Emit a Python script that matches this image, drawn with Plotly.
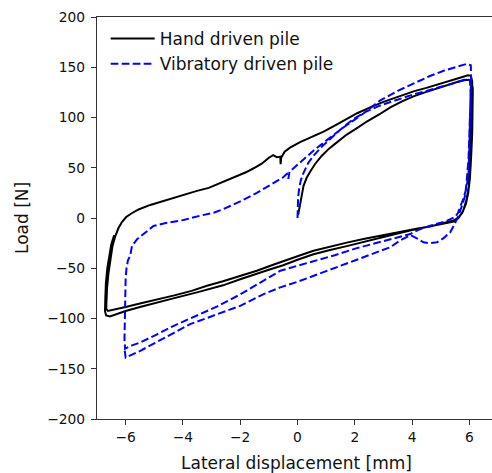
import plotly.graph_objects as go

# Hand driven pile (black, solid) - displacement [mm], load [N]
hand_x = [0.02, 0.06, 0.12, 0.21, 0.32, 0.44, 0.62, 0.85, 1.1, 1.32, 1.72, 2.05, 2.42, 2.85, 3.24, 3.65, 4.05, 4.45, 4.87, 5.3, 5.6, 5.9, 6.08,
          6.12, 6.12, 6.1, 6.06, 6.02, 5.96, 5.88, 5.75, 5.6, 5.44,
          5.0, 4.63, 4.2, 3.82, 3.24, 2.89, 2.3, 1.72, 1.1, 0.56, 0.1, -0.25, -0.8, -1.42, -2.0, -2.6, -3.16, -3.7, -4.3, -4.91, -5.5, -6.0, -6.4, -6.62,
          -6.68, -6.67, -6.65, -6.6, -6.54, -6.46, -6.36, -6.25, -6.13, -5.98, -5.8, -5.55, -5.14, -4.79, -4.4, -4.0, -3.51, -3.1, -2.81, -2.4, -2.12,
          -1.8, -1.53, -1.25, -1.0, -0.85, -0.72, -0.6, -0.59, -0.57, -0.45, -0.26, 0.09, 0.5, 0.91, 1.3, 1.72, 2.1, 2.54, 3.0, 3.5, 4.05, 4.5, 5.0,
          5.4, 5.73, 5.95, 6.05,
          6.1, 6.08, 6.05, 6.02, 5.98, 5.9, 5.78, 5.62, 5.45,
          5.2, 4.63, 4.0, 3.5, 2.89, 2.3, 1.72, 1.1, 0.56, 0.0, -0.5, -1.0, -1.42, -2.0, -2.6, -3.1, -3.51, -4.2, -4.91, -5.5, -6.0, -6.35, -6.55, -6.68,
          -6.72, -6.71, -6.69, -6.64, -6.58, -6.5, -6.4]
hand_y = [3, 8, 18, 32, 40, 46, 54, 62, 69, 74, 83, 89, 96, 103, 110, 116, 121, 125, 129, 133, 135.5, 137.5, 137,
          128, 110, 85, 60, 40, 25, 14, 5, 0, -2.5,
          -5.5, -8.5, -10.5, -12.5, -16, -17.6, -21, -24.5, -28.5, -32.6, -37, -40.8, -46, -52.5, -58, -63, -67.4, -72.5, -77, -80.7, -85, -88.5, -91, -92.5,
          -90, -80, -70, -55, -41, -28, -18, -10, -4, 1, 4.5, 8.5, 13, 16, 20, 23.5, 27, 30, 33.5, 38, 41.5,
          45.5, 49.5, 54, 60, 62.5, 60.5, 61, 53.5, 60, 66, 70, 75.5, 80.5, 86, 92, 98.5, 104.5, 110, 115.5, 120.5, 126, 129.5, 133.5,
          137, 140, 142, 141.5,
          136, 115, 85, 55, 32, 18, 7, 0, -3.5,
          -5, -8, -12, -15.5, -20, -24, -28, -32, -36, -41.5, -47, -51.5, -55.8, -61, -67, -71, -74, -79, -84, -88.5, -92.5, -95.5, -98, -97,
          -93, -80, -65, -50, -38, -26, -17]

# Vibratory driven pile (blue, dashed)
vib_x = [0.0, 0.0, 0.02, 0.06, 0.12, 0.21, 0.38, 0.56, 0.85, 1.14, 1.5, 1.95, 2.4, 2.89, 3.5, 4.05, 4.5, 4.98, 5.5, 5.91, 6.02,
         6.04, 6.03, 6.0, 5.97, 5.9, 5.8, 5.68, 5.6, 5.5,
         5.2, 4.63, 4.2, 3.93,
         3.24, 2.07, 1.3, 0.5, 0.0, -0.6, -1.1, -1.65, -2.0, -2.8, -3.75, -4.3, -4.9, -5.49, -5.8, -6.02,
         -6.04, -6.03, -6.02, -6.0, -5.97, -5.92, -5.84, -5.78, -5.6, -5.32, -5.03, -4.6, -4.27, -3.98, -3.4, -2.9, -2.58, -2.0, -1.42, -0.84, -0.5,
         -0.37, -0.32, -0.28, -0.1, 0.21, 0.6, 1.0, 1.6, 2.3, 2.89, 3.5, 4.05, 4.6, 5.1, 5.5, 5.91, 6.05,
         6.06, 6.03, 6.0, 5.97, 5.9, 5.85, 5.74, 5.62,
         5.45, 5.33, 5.1, 4.87, 4.6, 4.4, 4.15, 3.95,
         3.6, 3.24, 2.07, 1.0, 0.0, -0.6, -1.2, -2.0, -2.9, -3.75, -4.3, -4.9, -5.49, -6.0, -6.03]
vib_y = [0, 10, 20, 30, 38, 45, 55, 62, 71, 78.7, 88, 98.5, 106, 112, 118, 123, 126.5, 130, 134.5, 138.4, 137,
         125, 100, 70, 45, 30, 20, 10, 5, 1,
         -3, -7.7, -12, -16,
         -21, -30, -37, -43, -47.5, -52.5, -61, -70.7, -76, -88, -100, -107, -115.7, -123.8, -127, -130,
         -120, -100, -80, -60, -50, -42, -37.5, -28, -21, -14.5, -8, -5, -3, -2, 2.3, 5.5, 9, 16.5, 25, 34.5, 40.5,
         44, 39, 46, 50.5, 57.5, 68, 77, 90, 104, 117, 126.5, 134, 141, 146.5, 150, 153.4, 152,
         140, 110, 80, 58.8, 35, 22, 12, 2.3,
         -8, -14.2, -20, -24.2, -25, -24.2, -20, -17,
         -22, -29, -41.5, -53, -63.5, -69, -76, -87.4, -96.5, -105.6, -114, -123, -132.2, -139, -132]

x_ticks = [-6, -4, -2, 0, 2, 4, 6]
y_ticks = [-200, -150, -100, -50, 0, 50, 100, 150, 200]

FONT = "DejaVu Sans"

fig = go.Figure()
fig.add_trace(go.Scatter(x=hand_x, y=hand_y, mode="lines", name="Hand driven pile",
                         line=dict(color="black", width=2)))
fig.add_trace(go.Scatter(x=vib_x, y=vib_y, mode="lines", name="Vibratory driven pile",
                         line=dict(color="#0000ff", width=2, dash="7.7px,3.3px")))

axis_common = dict(showgrid=False, zeroline=False, showline=True, linecolor="#333333", linewidth=1.2,
                   ticks="outside", ticklen=5, tickwidth=1.1, tickcolor="#333333",
                   tickfont=dict(family=FONT, size=13.8, color="#111111"))

fig.update_layout(
    width=492, height=473,
    margin=dict(l=97, r=0, t=17, b=54),
    paper_bgcolor="white", plot_bgcolor="white",
    font=dict(family=FONT, color="#111111"),
    xaxis=dict(range=[-7, 6.79], tickvals=x_ticks, mirror=True, **axis_common),
    yaxis=dict(range=[-200, 200], tickvals=y_ticks, ticklabelstandoff=3, **axis_common),
    showlegend=True,
    legend=dict(x=0.022, y=0.99, xanchor="left", yanchor="top", bgcolor="rgba(0,0,0,0)",
                font=dict(family=FONT, size=17, color="#111111"), itemwidth=44,
                tracegroupgap=0),
    annotations=[
        dict(text="Lateral displacement [mm]", xref="paper", yref="paper", x=0.5038, y=-0.11,
             xanchor="center", yanchor="middle", showarrow=False,
             font=dict(family=FONT, size=17, color="#111111")),
        dict(text="Load [N]", xref="paper", yref="paper", x=-0.19, y=0.5,
             xanchor="center", yanchor="middle", showarrow=False, textangle=-90,
             font=dict(family=FONT, size=17, color="#111111")),
    ],
)

fig.write_html("out.html")
